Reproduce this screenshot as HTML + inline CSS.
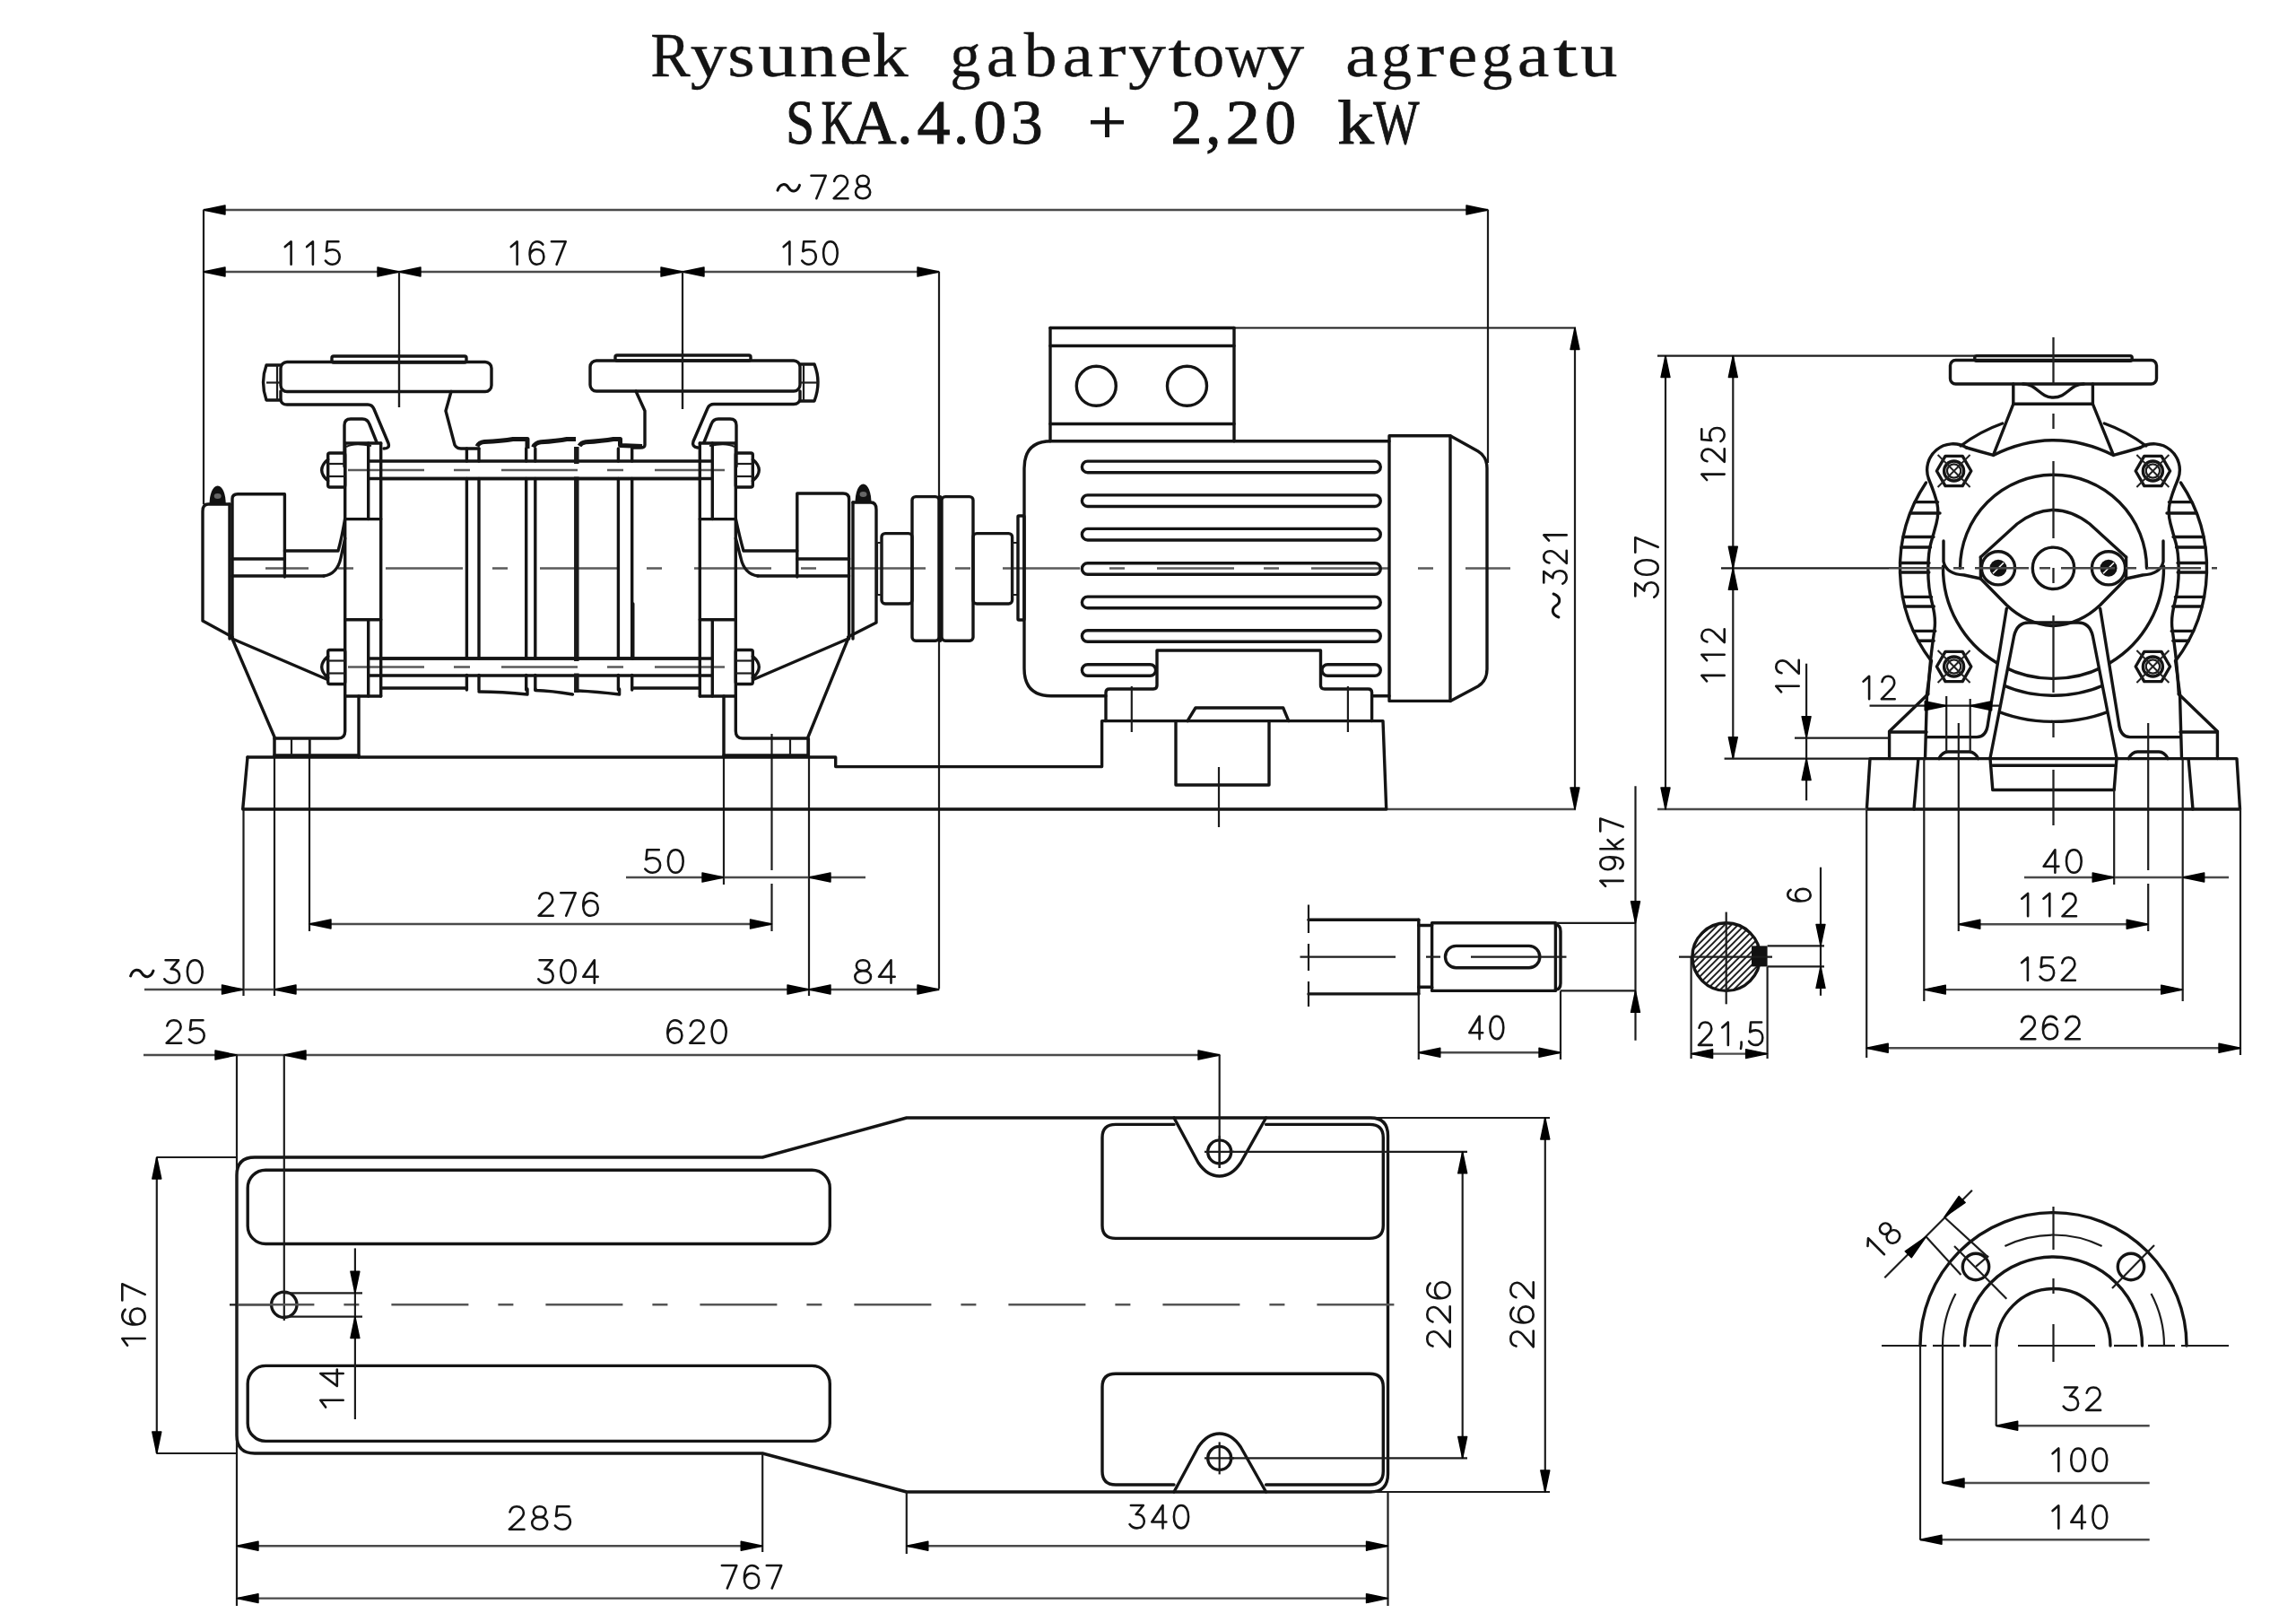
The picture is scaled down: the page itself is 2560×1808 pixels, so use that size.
<!DOCTYPE html>
<html><head><meta charset="utf-8"><title>Rysunek gabarytowy agregatu</title>
<style>
html,body{margin:0;padding:0;background:#fff;}
svg{display:block;filter:grayscale(1);}
.o{fill:none;stroke:#141414;stroke-width:3.4;stroke-linejoin:round;stroke-linecap:round;}
.t{fill:none;stroke:#1c1c1c;stroke-width:2.2;stroke-linecap:butt;}
.d{fill:none;stroke:#4a4a4a;stroke-width:2.4;}
.c{fill:none;stroke:#555;stroke-width:2.6;stroke-dasharray:56 14 14 14;}
.cs{fill:none;stroke:#555;stroke-width:2.6;stroke-dasharray:28 10 10 10;}
.h{fill:none;stroke:#222;stroke-width:2;}
.wl{fill:none;stroke:#fff;stroke-width:1.6;}
.a{fill:#000;stroke:#000;stroke-width:1.4;stroke-linejoin:round;}
.tl{fill:none;stroke:#111;stroke-width:3;stroke-linecap:round;}
.fb{fill:#111;stroke:none;}
.dt{font-family:"Liberation Sans",sans-serif;fill:#141414;stroke:#fff;stroke-width:0.7;}
.df{fill:none;stroke:#141414;stroke-width:2.6;stroke-linecap:round;stroke-linejoin:round;}
.tt{font-family:"Liberation Serif",serif;fill:#141414;stroke:#141414;stroke-width:1.0;}
.tt1{font-family:"Liberation Serif",serif;fill:#141414;stroke:#141414;stroke-width:0.3;}
</style></head>
<body>
<svg width="2560" height="1808" viewBox="0 0 2560 1808">
<rect x="0" y="0" width="2560" height="1808" fill="#fff"/>
<text class="tt1" x="725.2" y="84.5" font-size="69" textLength="44.5" lengthAdjust="spacingAndGlyphs">R</text>
<text class="tt1" x="769.8" y="84.5" font-size="69" textLength="40.7" lengthAdjust="spacingAndGlyphs">y</text>
<text class="tt1" x="811.2" y="84.5" font-size="69" textLength="30.5" lengthAdjust="spacingAndGlyphs">s</text>
<text class="tt1" x="845.2" y="84.5" font-size="69" textLength="43.5" lengthAdjust="spacingAndGlyphs">u</text>
<text class="tt1" x="891.2" y="84.5" font-size="69" textLength="42.1" lengthAdjust="spacingAndGlyphs">n</text>
<text class="tt1" x="935.8" y="84.5" font-size="69" textLength="36.7" lengthAdjust="spacingAndGlyphs">e</text>
<text class="tt1" x="972.2" y="84.5" font-size="69" textLength="40.5" lengthAdjust="spacingAndGlyphs">k</text>
<text class="tt1" x="1059.3" y="84.5" font-size="69" textLength="34.2" lengthAdjust="spacingAndGlyphs">g</text>
<text class="tt1" x="1099.8" y="84.5" font-size="69" textLength="34.2" lengthAdjust="spacingAndGlyphs">a</text>
<text class="tt1" x="1141.7" y="84.5" font-size="69" textLength="36.8" lengthAdjust="spacingAndGlyphs">b</text>
<text class="tt1" x="1184.8" y="84.5" font-size="69" textLength="34.2" lengthAdjust="spacingAndGlyphs">a</text>
<text class="tt1" x="1224" y="84.5" font-size="69" textLength="31.6" lengthAdjust="spacingAndGlyphs">r</text>
<text class="tt1" x="1258" y="84.5" font-size="69" textLength="42" lengthAdjust="spacingAndGlyphs">y</text>
<text class="tt1" x="1302.3" y="84.5" font-size="69" textLength="26.3" lengthAdjust="spacingAndGlyphs">t</text>
<text class="tt1" x="1329.8" y="84.5" font-size="69" textLength="35.5" lengthAdjust="spacingAndGlyphs">o</text>
<text class="tt1" x="1366.3" y="84.5" font-size="69" textLength="47.3" lengthAdjust="spacingAndGlyphs">w</text>
<text class="tt1" x="1412.2" y="84.5" font-size="69" textLength="42" lengthAdjust="spacingAndGlyphs">y</text>
<text class="tt1" x="1499.9" y="84.5" font-size="69" textLength="36.3" lengthAdjust="spacingAndGlyphs">a</text>
<text class="tt1" x="1540" y="84.5" font-size="69" textLength="34.1" lengthAdjust="spacingAndGlyphs">g</text>
<text class="tt1" x="1578.5" y="84.5" font-size="69" textLength="31.9" lengthAdjust="spacingAndGlyphs">r</text>
<text class="tt1" x="1614" y="84.5" font-size="69" textLength="33.3" lengthAdjust="spacingAndGlyphs">e</text>
<text class="tt1" x="1651.8" y="84.5" font-size="69" textLength="34.8" lengthAdjust="spacingAndGlyphs">g</text>
<text class="tt1" x="1691.8" y="84.5" font-size="69" textLength="35.6" lengthAdjust="spacingAndGlyphs">a</text>
<text class="tt1" x="1731.8" y="84.5" font-size="69" textLength="27.4" lengthAdjust="spacingAndGlyphs">t</text>
<text class="tt1" x="1762" y="84.5" font-size="69" textLength="41.5" lengthAdjust="spacingAndGlyphs">u</text>
<text class="tt" x="876.2" y="160" font-size="69" textLength="31.7" lengthAdjust="spacingAndGlyphs">S</text>
<text class="tt" x="915.5" y="160" font-size="69" textLength="37" lengthAdjust="spacingAndGlyphs">K</text>
<text class="tt" x="949.5" y="160" font-size="69" textLength="50" lengthAdjust="spacingAndGlyphs">A</text>
<text class="tt" x="1000.2" y="160" font-size="69" textLength="17.2" lengthAdjust="spacingAndGlyphs">.</text>
<text class="tt" x="1022.5" y="160" font-size="69" textLength="37" lengthAdjust="spacingAndGlyphs">4</text>
<text class="tt" x="1062.9" y="160" font-size="69" textLength="17.2" lengthAdjust="spacingAndGlyphs">.</text>
<text class="tt" x="1085.2" y="160" font-size="69" textLength="37" lengthAdjust="spacingAndGlyphs">0</text>
<text class="tt" x="1127" y="160" font-size="69" textLength="35.7" lengthAdjust="spacingAndGlyphs">3</text>
<text class="tt" x="1212.8" y="160" font-size="69" textLength="43.5" lengthAdjust="spacingAndGlyphs">+</text>
<text class="tt" x="1305.5" y="160" font-size="69" textLength="34.8" lengthAdjust="spacingAndGlyphs">2</text>
<text class="tt" x="1344.3" y="160" font-size="69" textLength="17.2" lengthAdjust="spacingAndGlyphs">,</text>
<text class="tt" x="1366.5" y="160" font-size="69" textLength="38.5" lengthAdjust="spacingAndGlyphs">2</text>
<text class="tt" x="1410.2" y="160" font-size="69" textLength="34.8" lengthAdjust="spacingAndGlyphs">0</text>
<text class="tt" x="1491.3" y="160" font-size="69" textLength="40.7" lengthAdjust="spacingAndGlyphs">k</text>
<text class="tt" x="1531.3" y="160" font-size="69" textLength="51.2" lengthAdjust="spacingAndGlyphs">W</text>
<line class="d" x1="227" y1="234" x2="1659" y2="234"/>
<path class="a" d="M227 234 L251 229 L251 239 Z"/>
<path class="a" d="M1659 234 L1635 239 L1635 229 Z"/>
<line class="t" x1="227" y1="234" x2="227" y2="562"/>
<line class="t" x1="1659" y1="234" x2="1659" y2="516"/>
<path class="tl" d="M867 212.2 C869.9 203.6 876.3 204.3 879.2 209.3 C882.2 214.3 888.6 215 891.5 206.4"/>
<path class="df" d="M904.5 195.8 L920.7 195.8 L910.3 221.2 M930.2 202.0 C931.2 198.0 934.1 195.8 937.5 195.8 C942.1 195.8 945.0 198.9 945.0 203.1 C945.0 206.9 942.5 209.2 939.0 212.1 L929.6 221.2 L945.5 221.2 M962.1 207.6 C958.0 207.6 955.5 205.1 955.5 201.8 C955.5 198.3 958.2 195.8 962.1 195.8 C966.0 195.8 968.7 198.3 968.7 201.8 C968.7 205.1 966.1 207.6 962.1 207.6 C957.4 207.6 954.0 210.3 954.0 214.3 C954.0 218.3 957.4 221.2 962.1 221.2 C966.8 221.2 970.2 218.3 970.2 214.3 C970.2 210.3 966.8 207.6 962.1 207.6 Z"/>
<line class="d" x1="227" y1="303" x2="1047" y2="303"/>
<path class="a" d="M227 303 L251 298 L251 308 Z"/>
<path class="a" d="M445 303 L421 308 L421 298 Z"/>
<path class="a" d="M445 303 L469 298 L469 308 Z"/>
<path class="a" d="M761 303 L737 308 L737 298 Z"/>
<path class="a" d="M761 303 L785 298 L785 308 Z"/>
<path class="a" d="M1047 303 L1023 308 L1023 298 Z"/>
<line class="t" x1="445" y1="303" x2="445" y2="454"/>
<line class="t" x1="761" y1="303" x2="761" y2="456"/>
<line class="t" x1="1047" y1="303" x2="1047" y2="1102"/>
<path class="df" d="M317.8 275.1 L324.6 269.3 L324.6 294.7 M342.1 275.1 L348.9 269.3 L348.9 294.7 M377.4 269.3 L364.9 269.3 L364.0 280.2 C366.0 278.7 368.2 278.2 370.8 278.2 C375.7 278.2 378.7 281.8 378.7 286.5 C378.7 291.4 375.4 294.7 370.8 294.7 C367.3 294.7 364.6 293.1 362.9 290.5"/>
<path class="df" d="M569.8 275.1 L576.6 269.3 L576.6 294.7 M605.3 272.6 C603.7 270.4 601.5 269.3 599.0 269.3 C593.6 269.3 590.6 275.1 590.6 283.8 C590.6 290.7 593.7 294.7 598.5 294.7 C603.3 294.7 606.4 291.1 606.4 286.2 C606.4 281.3 603.3 278.0 598.7 278.0 C594.9 278.0 591.8 280.5 590.7 284.5 M614.9 269.3 L630.7 269.3 L620.6 294.7"/>
<path class="df" d="M873.7 275.1 L880.4 269.3 L880.4 294.7 M908.5 269.3 L896.2 269.3 L895.3 280.2 C897.3 278.7 899.5 278.2 902.0 278.2 C906.8 278.2 909.8 281.8 909.8 286.5 C909.8 291.4 906.5 294.7 902.0 294.7 C898.6 294.7 895.9 293.1 894.2 290.5 M925.9 269.3 C930.9 269.3 933.7 274.7 933.7 282.0 C933.7 289.3 930.9 294.7 925.9 294.7 C920.9 294.7 918.1 289.3 918.1 282.0 C918.1 274.7 920.9 269.3 925.9 269.3 Z"/>
<line class="t" x1="1376" y1="365.5" x2="1757" y2="365.5"/>
<line class="d" x1="1546" y1="902" x2="1757" y2="902"/>
<line class="t" x1="1756" y1="365.5" x2="1756" y2="902"/>
<path class="a" d="M1756 365.5 L1761 389.5 L1751 389.5 Z"/>
<path class="a" d="M1756 902 L1751 878 L1761 878 Z"/>
<path class="df" transform="translate(1748 652) rotate(-90)" d="M2.5 -26.7 L14.9 -26.7 L7.7 -16.7 C12.7 -17.1 15.8 -13.6 15.8 -8.9 C15.8 -4.2 12.7 -1.3 8.5 -1.3 C5.5 -1.3 2.9 -2.9 1.3 -5.7 M24.6 -20.5 C25.5 -24.5 28.1 -26.7 31.1 -26.7 C35.2 -26.7 37.8 -23.6 37.8 -19.4 C37.8 -15.6 35.6 -13.3 32.4 -10.4 L24.1 -1.3 L38.2 -1.3 M49.4 -20.9 L55.6 -26.7 L55.6 -1.3"/>
<path class="tl" transform="rotate(-90 1735 675)" d="M1722 677.9 C1725.1 669.3 1731.9 670 1735 675 C1738.1 680 1744.9 680.7 1748 672.1"/>
<line class="t" x1="271.5" y1="902" x2="271.5" y2="1110"/>
<line class="t" x1="306" y1="823" x2="306" y2="1110"/>
<line class="t" x1="345" y1="823" x2="345" y2="1038"/>
<line class="t" x1="807" y1="776" x2="807" y2="986"/>
<line class="t" x1="860.5" y1="818" x2="860.5" y2="970"/>
<line class="t" x1="860.5" y1="985" x2="860.5" y2="1038"/>
<line class="t" x1="902" y1="823" x2="902" y2="1110"/>
<line class="d" x1="698" y1="978" x2="965" y2="978"/>
<path class="a" d="M807 978 L783 983 L783 973 Z"/>
<path class="a" d="M902 978 L926 973 L926 983 Z"/>
<path class="df" d="M734.8 947.3 L721.5 947.3 L720.5 958.2 C722.7 956.7 725.0 956.2 727.7 956.2 C732.9 956.2 736.1 959.8 736.1 964.5 C736.1 969.4 732.6 972.7 727.7 972.7 C724.0 972.7 721.2 971.1 719.3 968.5 M753.3 947.3 C758.7 947.3 761.7 952.7 761.7 960.0 C761.7 967.3 758.7 972.7 753.3 972.7 C747.9 972.7 744.9 967.3 744.9 960.0 C744.9 952.7 747.9 947.3 753.3 947.3 Z"/>
<line class="d" x1="345" y1="1030" x2="860.5" y2="1030"/>
<path class="a" d="M345 1030 L369 1025 L369 1035 Z"/>
<path class="a" d="M860.5 1030 L836.5 1035 L836.5 1025 Z"/>
<path class="df" d="M601.3 1001.5 C602.3 997.5 605.2 995.3 608.7 995.3 C613.3 995.3 616.2 998.4 616.2 1002.6 C616.2 1006.4 613.7 1008.7 610.1 1011.6 L600.6 1020.7 L616.7 1020.7 M625.3 995.3 L641.7 995.3 L631.2 1020.7 M665.6 998.6 C663.9 996.4 661.6 995.3 659.0 995.3 C653.4 995.3 650.3 1001.1 650.3 1009.8 C650.3 1016.7 653.6 1020.7 658.5 1020.7 C663.4 1020.7 666.7 1017.1 666.7 1012.2 C666.7 1007.3 663.4 1004.0 658.7 1004.0 C654.7 1004.0 651.6 1006.5 650.5 1010.5"/>
<line class="d" x1="161" y1="1103" x2="1047" y2="1103"/>
<path class="a" d="M271.5 1103 L247.5 1108 L247.5 1098 Z"/>
<path class="a" d="M306 1103 L330 1098 L330 1108 Z"/>
<path class="a" d="M902 1103 L878 1108 L878 1098 Z"/>
<path class="a" d="M902 1103 L926 1098 L926 1108 Z"/>
<path class="a" d="M1047 1103 L1023 1108 L1023 1098 Z"/>
<path class="tl" d="M145.6 1087.9 C148.6 1079.3 155.3 1080 158.3 1085 C161.3 1090 168 1090.7 171 1082.1"/>
<path class="df" d="M184.6 1070.3 L199.1 1070.3 L190.7 1080.3 C196.6 1079.9 200.1 1083.4 200.1 1088.1 C200.1 1092.8 196.6 1095.7 191.7 1095.7 C188.2 1095.7 185.2 1094.1 183.3 1091.3 M217.3 1070.3 C222.7 1070.3 225.7 1075.7 225.7 1083.0 C225.7 1090.3 222.7 1095.7 217.3 1095.7 C211.9 1095.7 208.9 1090.3 208.9 1083.0 C208.9 1075.7 211.9 1070.3 217.3 1070.3 Z"/>
<path class="df" d="M601.6 1070.3 L615.7 1070.3 L607.5 1080.3 C613.3 1079.9 616.7 1083.4 616.7 1088.1 C616.7 1092.8 613.3 1095.7 608.5 1095.7 C605.1 1095.7 602.1 1094.1 600.3 1091.3 M633.5 1070.3 C638.7 1070.3 641.7 1075.7 641.7 1083.0 C641.7 1090.3 638.7 1095.7 633.5 1095.7 C628.3 1095.7 625.3 1090.3 625.3 1083.0 C625.3 1075.7 628.3 1070.3 633.5 1070.3 Z M662.8 1095.7 L662.8 1070.3 L650.3 1088.8 L666.7 1088.8"/>
<path class="df" d="M962.1 1082.1 C957.7 1082.1 954.9 1079.6 954.9 1076.3 C954.9 1072.8 957.9 1070.3 962.1 1070.3 C966.4 1070.3 969.4 1072.8 969.4 1076.3 C969.4 1079.6 966.6 1082.1 962.1 1082.1 C957.0 1082.1 953.3 1084.8 953.3 1088.8 C953.3 1092.8 957.0 1095.7 962.1 1095.7 C967.3 1095.7 971.0 1092.8 971.0 1088.8 C971.0 1084.8 967.3 1082.1 962.1 1082.1 Z M993.5 1095.7 L993.5 1070.3 L980.0 1088.8 L997.7 1088.8"/>
<line class="d" x1="160" y1="1176" x2="1360" y2="1176"/>
<path class="a" d="M264 1176 L240 1181 L240 1171 Z"/>
<path class="a" d="M317 1176 L341 1171 L341 1181 Z"/>
<path class="a" d="M1360 1176 L1336 1181 L1336 1171 Z"/>
<path class="df" d="M186.3 1143.5 C187.3 1139.5 190.3 1137.3 193.9 1137.3 C198.6 1137.3 201.6 1140.4 201.6 1144.6 C201.6 1148.4 199.1 1150.7 195.4 1153.6 L185.6 1162.7 L202.1 1162.7 M226.4 1137.3 L213.1 1137.3 L212.0 1148.2 C214.2 1146.7 216.6 1146.2 219.3 1146.2 C224.5 1146.2 227.7 1149.8 227.7 1154.5 C227.7 1159.4 224.2 1162.7 219.3 1162.7 C215.6 1162.7 212.7 1161.1 210.9 1158.5"/>
<path class="df" d="M759.3 1140.6 C757.7 1138.4 755.4 1137.3 752.8 1137.3 C747.4 1137.3 744.3 1143.1 744.3 1151.8 C744.3 1158.7 747.5 1162.7 752.4 1162.7 C757.2 1162.7 760.4 1159.1 760.4 1154.2 C760.4 1149.3 757.2 1146.0 752.5 1146.0 C748.7 1146.0 745.6 1148.5 744.5 1152.5 M769.9 1143.5 C770.9 1139.5 773.8 1137.3 777.2 1137.3 C781.7 1137.3 784.6 1140.4 784.6 1144.6 C784.6 1148.4 782.2 1150.7 778.6 1153.6 L769.3 1162.7 L785.1 1162.7 M801.6 1137.3 C806.8 1137.3 809.7 1142.7 809.7 1150.0 C809.7 1157.3 806.8 1162.7 801.6 1162.7 C796.5 1162.7 793.6 1157.3 793.6 1150.0 C793.6 1142.7 796.5 1137.3 801.6 1137.3 Z"/>
<path d="M296 633.5 L1684 633.5" style="fill:none;stroke:#5a5a5a;stroke-width:2.6;stroke-dasharray:86 33 17 36;stroke-dashoffset:38"/>
<rect class="o" x="370" y="397" width="150" height="7" rx="2"/>
<rect class="o" x="313" y="403.5" width="235" height="33" rx="7"/>
<path class="o" d="M313 407 L297 407 Q290 426 297 446 L313 446"/>
<line class="t" x1="309" y1="407" x2="309" y2="446"/>
<line class="t" x1="297" y1="426.5" x2="313" y2="426.5"/>
<path class="o" d="M313 436 L313 446 Q314 451 320 451 L410 451 Q415 451 417 456 L433 494 Q435 500 428 500"/>
<path class="o" d="M503 436.5 L497 458 L507 496 Q509 500 514 500 L534 500"/>
<line class="t" x1="445" y1="390" x2="445" y2="454"/>
<path class="o" d="M384 520 L384 474 Q384 467 391 467 L404 467 Q410 467 412 473 L420 493"/>
<path class="t" d="M386 498 Q395 493 414 497"/>
<rect class="o" x="686" y="396" width="151" height="6" rx="2"/>
<rect class="o" x="658" y="402" width="234" height="34" rx="7"/>
<path class="o" d="M892 406 L908 406 Q916 426 908 447 L892 447"/>
<line class="t" x1="896" y1="406" x2="896" y2="447"/>
<line class="t" x1="892" y1="426.5" x2="913" y2="426.5"/>
<path class="o" d="M892 436 L892 445 Q891 450.5 885 450.5 L796 450.5 Q791 450.5 789 455 L773 492 Q771 498 778 499"/>
<path class="o" d="M709 436 L719 458 L719 496 Q719 499 714 499 L705 499"/>
<line class="t" x1="761" y1="390" x2="761" y2="456"/>
<path class="o" d="M821 520 L821 474 Q821 467 814 467 L801 467 Q795 467 793 473 L785 493"/>
<path class="t" d="M819 498 Q810 493 791 497"/>
<path d="M532 497.5 Q534 493 540 492.5 Q560 491.5 572 489.5 L588 489.5 L588 500 M594.5 498.5 Q597 493.5 603 492.8 Q622 491.5 632 489.5 L642 489.5 M646 497 Q648 493.5 653 492.8 Q672 491.5 684 489.5 L691.5 489.5 L691.5 496.5 L716 497.5" style="fill:none;stroke:#141414;stroke-width:5;stroke-linejoin:round"/>
<path class="o" d="M534 771 Q560 771 588 774 L588 768"/>
<path class="o" d="M597 768 L597 769.5 Q615 770 638.5 774"/>
<path class="o" d="M645 770 Q665 771 690.6 774 L690.6 768"/>
<line class="o" x1="424.7" y1="767" x2="520.4" y2="767"/>
<line class="o" x1="704.7" y1="767" x2="780" y2="767"/>
<line class="o" x1="412" y1="514" x2="794" y2="514"/>
<line class="o" x1="412" y1="533.5" x2="794" y2="533.5"/>
<line class="o" x1="412" y1="734" x2="794" y2="734"/>
<line class="o" x1="412" y1="753" x2="794" y2="753"/>
<path d="M388 524 L808 524 M388 743.5 L808 743.5" style="fill:none;stroke:#5a5a5a;stroke-width:2.4;stroke-dasharray:85 33 18 35"/>
<line class="o" x1="520.4" y1="500" x2="520.4" y2="514"/>
<line class="o" x1="520.4" y1="533.5" x2="520.4" y2="734"/>
<line class="o" x1="520.4" y1="752.5" x2="520.4" y2="769"/>
<line class="o" x1="534" y1="500" x2="534" y2="514"/>
<line class="o" x1="534" y1="533.5" x2="534" y2="734"/>
<line class="o" x1="534" y1="752.5" x2="534" y2="769"/>
<line class="o" x1="586.7" y1="500" x2="586.7" y2="514"/>
<line class="o" x1="586.7" y1="533.5" x2="586.7" y2="734"/>
<line class="o" x1="586.7" y1="752.5" x2="586.7" y2="769"/>
<line class="o" x1="596.8" y1="500" x2="596.8" y2="514"/>
<line class="o" x1="596.8" y1="533.5" x2="596.8" y2="734"/>
<line class="o" x1="596.8" y1="752.5" x2="596.8" y2="769"/>
<line class="o" x1="689.4" y1="500" x2="689.4" y2="514"/>
<line class="o" x1="689.4" y1="533.5" x2="689.4" y2="734"/>
<line class="o" x1="689.4" y1="752.5" x2="689.4" y2="769"/>
<line class="o" x1="704.7" y1="500" x2="704.7" y2="514"/>
<line class="o" x1="704.7" y1="533.5" x2="704.7" y2="734"/>
<line class="o" x1="704.7" y1="752.5" x2="704.7" y2="769"/>
<line x1="642.8" y1="498" x2="642.8" y2="517" style="stroke:#1a1a1a;stroke-width:5.5"/>
<line x1="642.8" y1="531.5" x2="642.8" y2="737" style="stroke:#1a1a1a;stroke-width:5.5"/>
<line x1="642.8" y1="750.5" x2="642.8" y2="772" style="stroke:#1a1a1a;stroke-width:5.5"/>
<line class="o" x1="705.8" y1="673" x2="705.8" y2="734"/>
<line class="o" x1="424.7" y1="533.5" x2="780" y2="533.5"/>
<line class="o" x1="424.7" y1="734" x2="780" y2="734"/>
<line class="o" x1="384.7" y1="494" x2="384.7" y2="776"/>
<line class="o" x1="410.7" y1="494" x2="410.7" y2="578.6"/>
<line class="o" x1="410.7" y1="690.8" x2="410.7" y2="776"/>
<line class="o" x1="424.7" y1="494" x2="424.7" y2="776"/>
<line class="o" x1="384.7" y1="578.6" x2="424.7" y2="578.6"/>
<line class="o" x1="384.7" y1="690.8" x2="424.7" y2="690.8"/>
<line class="o" x1="384.7" y1="494" x2="424.7" y2="494"/>
<line class="o" x1="384.7" y1="776" x2="424.7" y2="776"/>
<rect class="o" x="365.7" y="505" width="19" height="38" rx="2"/>
<line class="t" x1="365.7" y1="517" x2="384.7" y2="517"/>
<line class="t" x1="365.7" y1="531" x2="384.7" y2="531"/>
<path class="o" d="M365.7 512 Q351.7 524 365.7 536"/>
<rect class="o" x="365.7" y="724.5" width="19" height="38" rx="2"/>
<line class="t" x1="365.7" y1="736.5" x2="384.7" y2="736.5"/>
<line class="t" x1="365.7" y1="750.5" x2="384.7" y2="750.5"/>
<path class="o" d="M365.7 731.5 Q351.7 743.5 365.7 755.5"/>
<line class="o" x1="820.3" y1="494" x2="820.3" y2="776"/>
<line class="o" x1="794.3" y1="494" x2="794.3" y2="578.6"/>
<line class="o" x1="794.3" y1="690.8" x2="794.3" y2="776"/>
<line class="o" x1="780.3" y1="494" x2="780.3" y2="776"/>
<line class="o" x1="820.3" y1="578.6" x2="780.3" y2="578.6"/>
<line class="o" x1="820.3" y1="690.8" x2="780.3" y2="690.8"/>
<line class="o" x1="820.3" y1="494" x2="780.3" y2="494"/>
<line class="o" x1="820.3" y1="776" x2="780.3" y2="776"/>
<rect class="o" x="820.3" y="505" width="19" height="38" rx="2"/>
<line class="t" x1="820.3" y1="517" x2="839.3" y2="517"/>
<line class="t" x1="820.3" y1="531" x2="839.3" y2="531"/>
<path class="o" d="M839.3 512 Q853.3 524 839.3 536"/>
<rect class="o" x="820.3" y="724.5" width="19" height="38" rx="2"/>
<line class="t" x1="820.3" y1="736.5" x2="839.3" y2="736.5"/>
<line class="t" x1="820.3" y1="750.5" x2="839.3" y2="750.5"/>
<path class="o" d="M839.3 731.5 Q853.3 743.5 839.3 755.5"/>
<path class="o" d="M256 562 L232 562 Q226 562 226 570 L226 692 L259 710"/>
<line class="o" x1="256" y1="562" x2="256" y2="712"/>
<path class="o" d="M259 712 L259 556 Q259 550.7 265 550.7 L317.4 550.7 L317.4 643"/>
<line class="o" x1="259" y1="623" x2="317.4" y2="623"/>
<line class="o" x1="259" y1="642" x2="361" y2="642"/>
<path class="o" d="M317.4 614 L377 614 Q381 600 384.7 578"/>
<path class="o" d="M361 642 Q376 640 380 622 L384.7 600"/>
<path class="fb" d="M233.5 563 C233.5 551 237 541.5 242.7 541.5 C248.4 541.5 251.8 551 251.8 563 Z"/>
<ellipse cx="242.7" cy="553" rx="4" ry="3" fill="#666"/>
<path class="o" d="M259 712 L306 821.5 L306 842"/>
<path class="o" d="M259 712 L364 757"/>
<path class="o" d="M384.7 776 L384.7 815 Q384.7 823 377 823 L306 823"/>
<line class="o" x1="306" y1="842" x2="400" y2="842"/>
<line class="t" x1="345.6" y1="823" x2="345.6" y2="842"/>
<line class="o" x1="400" y1="776" x2="400" y2="844"/>
<line class="t" x1="325" y1="823" x2="325" y2="842"/>
<path class="o" d="M951 560 L971 560 Q977 560 977 568 L977 694 L945.6 710"/>
<line class="o" x1="951" y1="560" x2="951" y2="712"/>
<path class="o" d="M946.6 712 L946.6 556 Q946.6 550 940 550 L888.8 550 L888.8 643"/>
<line class="o" x1="888.8" y1="623" x2="946.6" y2="623"/>
<line class="o" x1="845" y1="642" x2="946.6" y2="642"/>
<path class="o" d="M888.8 614 L829 614 Q825 600 820.3 578"/>
<path class="o" d="M845 642 Q830 640 826 622 L820.3 600"/>
<path class="fb" d="M953.5 561 C953.5 549 957 539.5 962.5 539.5 C968 539.5 971.5 549 971.5 561 Z"/>
<ellipse cx="962.5" cy="551" rx="4" ry="3" fill="#666"/>
<path class="o" d="M945.6 712 L901 821.5 L901 842"/>
<path class="o" d="M945.6 712 L841 757"/>
<path class="o" d="M820.3 776 L820.3 815 Q820.3 823 828 823 L901 823"/>
<line class="o" x1="807" y1="842" x2="901" y2="842"/>
<line class="o" x1="807" y1="776" x2="807" y2="844"/>
<line class="t" x1="881" y1="823" x2="881" y2="842"/>
<path class="o" d="M276 844 L931.7 844 L931.7 854.6 L1228.6 854.6 L1228.6 803.6 L1542 803.6 L1545.7 902 L270.7 902 Z"/>
<line class="o" x1="276" y1="844" x2="276" y2="844"/>
<rect class="o" x="983" y="594.6" width="34" height="78.4" rx="4"/>
<rect class="t" x="978" y="605" width="5" height="58" rx="1"/>
<rect class="o" x="1017" y="553.6" width="30" height="160.7" rx="4"/>
<rect class="o" x="1050" y="553.6" width="35" height="160.7" rx="4"/>
<line class="o" x1="1048.5" y1="553.6" x2="1048.5" y2="714.3"/>
<rect class="o" x="1085" y="594.6" width="43.6" height="78.4" rx="4"/>
<rect class="t" x="1128.6" y="605" width="6.4" height="58" rx="1"/>
<rect class="o" x="1135" y="575" width="7" height="116" rx="1"/>
<line class="o" x1="1171" y1="365.5" x2="1376" y2="365.5"/>
<line class="o" x1="1171" y1="365.5" x2="1171" y2="491.8"/>
<line class="o" x1="1376" y1="365.5" x2="1376" y2="491.8"/>
<line class="o" x1="1171" y1="385.5" x2="1376" y2="385.5"/>
<line class="o" x1="1171" y1="472.5" x2="1376" y2="472.5"/>
<circle class="o" cx="1222.3" cy="430.3" r="22"/>
<circle class="o" cx="1323.5" cy="430.3" r="22"/>
<path class="o" d="M1549 491.8 L1172 491.8 Q1142 491.8 1142 522 L1142 745 Q1142 775.7 1172 775.7 L1233 775.7"/>
<line class="o" x1="1529.6" y1="775.7" x2="1549" y2="775.7"/>
<rect class="o" x="1206.4" y="514.1" width="332.9" height="12.6" rx="6.3"/>
<rect class="o" x="1206.4" y="551.9" width="332.9" height="12.6" rx="6.3"/>
<rect class="o" x="1206.4" y="589.4" width="332.9" height="12.6" rx="6.3"/>
<rect class="o" x="1206.4" y="627.7" width="332.9" height="12.6" rx="6.3"/>
<rect class="o" x="1206.4" y="665.1" width="332.9" height="12.6" rx="6.3"/>
<rect class="o" x="1206.4" y="702.7" width="332.9" height="12.6" rx="6.3"/>
<rect class="o" x="1206.4" y="740.7" width="82.2" height="12.6" rx="6.3"/>
<rect class="o" x="1474" y="740.7" width="65.3" height="12.6" rx="6.3"/>
<path class="o" d="M1233 803.6 L1233 772 Q1233 768 1237 768 L1286 768 Q1290 768 1290 764 L1290 725 L1472.5 725 L1472.5 764 Q1472.5 768 1477 768 L1525.6 768 Q1529.6 768 1529.6 772 L1529.6 803.6"/>
<line class="t" x1="1261.8" y1="765" x2="1261.8" y2="816"/>
<line class="t" x1="1502.9" y1="765" x2="1502.9" y2="816"/>
<path class="o" d="M1549 485.7 L1549 781.4 L1617 781.4 L1617 485.7 Z"/>
<path class="o" d="M1617 485.7 L1648 503 Q1658 509 1658 522 L1658 746 Q1658 759 1648 765 L1617 781.4"/>
<path class="o" d="M1311 803.6 L1311 875 L1415 875 L1415 803.6"/>
<path class="o" d="M1324 803.6 L1333 789 L1430.7 789 L1436.8 803.6"/>
<line class="t" x1="1359" y1="855" x2="1359" y2="922"/>
<rect class="o" x="2201.8" y="396.6" width="175.4" height="5.7" rx="2"/>
<rect class="o" x="2174.5" y="401.5" width="230" height="26.5" rx="6"/>
<path class="o" d="M2244.8 428 L2244.8 450.3 L2333.4 450.3 L2333.4 428"/>
<path class="o" d="M2255.6 428 C2271 428 2274 443 2289.5 443 C2305 443 2308 428 2323.4 428"/>
<path class="o" d="M2244.8 450.3 L2222.5 507.4"/>
<path class="o" d="M2333.4 450.3 L2356.5 507.4"/>
<path class="o" d="M2186.2 497 A171 171 0 0 1 2232.7 472"/>
<path class="o" d="M2346.3 472 A171 171 0 0 1 2392.8 497"/>
<path class="o" d="M2153.5 737 A171 171 0 0 1 2147.5 538"/>
<path class="o" d="M2431.5 538 A171 171 0 0 1 2425.5 737"/>
<path class="o" d="M2150.5 534 A29 29 0 0 1 2192.7 499"/>
<path class="o" d="M2428.5 534 A29 29 0 0 0 2386.3 499"/>
<path class="o" d="M2192.7 499 Q2208 503.5 2222.5 507.4 Q2289.5 474 2356.5 507.4 Q2371 503.5 2386.3 499"/>
<path class="o" d="M2150.5 534 Q2158 552 2160 562 Q2162 572 2159 583.5 Q2156 595 2153 605 Q2150 615 2149.8 635 Q2149.7 655 2154.2 672 Q2158.8 689 2156.9 702 Q2155 715 2153.5 727.5 Q2152 740 2150.8 756.9 L2149.7 773.8"/>
<path class="o" d="M2428.5 534 Q2421 552 2419 562 Q2417 572 2420 583.5 Q2423 595 2426 605 Q2429 615 2429.2 635 Q2429.3 655 2424.8 672 Q2420.2 689 2422.1 702 Q2424 715 2425.5 727.5 Q2427 740 2428.2 756.9 L2429.3 773.8"/>
<line class="o" x1="2135.2" y1="559.6" x2="2160.5" y2="559.6"/>
<line class="o" x1="2443.8" y1="559.6" x2="2418.5" y2="559.6"/>
<line class="o" x1="2129.9" y1="572" x2="2163" y2="572"/>
<line class="o" x1="2449.1" y1="572" x2="2416" y2="572"/>
<line class="o" x1="2122.1" y1="598.5" x2="2155.9" y2="598.5"/>
<line class="o" x1="2456.9" y1="598.5" x2="2423.1" y2="598.5"/>
<line class="o" x1="2120.1" y1="610" x2="2152.5" y2="610"/>
<line class="o" x1="2458.9" y1="610" x2="2426.5" y2="610"/>
<line class="o" x1="2118.6" y1="627.5" x2="2150.9" y2="627.5"/>
<line class="o" x1="2460.4" y1="627.5" x2="2428.1" y2="627.5"/>
<line class="o" x1="2118.6" y1="638" x2="2150.8" y2="638"/>
<line class="o" x1="2460.4" y1="638" x2="2428.2" y2="638"/>
<line class="o" x1="2121.5" y1="665.4" x2="2153.5" y2="665.4"/>
<line class="o" x1="2457.5" y1="665.4" x2="2425.5" y2="665.4"/>
<line class="o" x1="2123.9" y1="676" x2="2156.3" y2="676"/>
<line class="o" x1="2455.1" y1="676" x2="2422.7" y2="676"/>
<line class="o" x1="2133.5" y1="703.4" x2="2157.7" y2="703.4"/>
<line class="o" x1="2445.5" y1="703.4" x2="2421.3" y2="703.4"/>
<line class="o" x1="2138.8" y1="714.2" x2="2156.1" y2="714.2"/>
<line class="o" x1="2440.2" y1="714.2" x2="2422.9" y2="714.2"/>
<path class="o" d="M2185.5 633.3 A104 104 0 0 1 2393.5 633.3"/>
<path class="o" d="M2226.6 739 A123 123 0 0 1 2166.5 631.2"/>
<path class="o" d="M2412.5 631.2 A123 123 0 0 1 2352.4 739"/>
<path class="o" d="M2167 603 L2167 626 Q2170 640 2190 641 L2208.4 645"/>
<path class="o" d="M2412 603 L2412 626 Q2409 640 2389 641 L2370.6 645"/>
<path class="o" d="M2208.4 621 L2249 584 Q2289.5 553 2330 584 L2370.6 621"/>
<path class="o" d="M2208.4 621 L2208.4 645 L2237.4 674.5 Q2260 696 2289.5 697.6 Q2319 696 2341.6 674.5 L2370.6 645 L2370.6 621"/>
<circle class="o" cx="2228" cy="633.3" r="18.6"/>
<circle class="fb" cx="2228" cy="633.3" r="9.5"/>
<line class="wl" x1="2222" y1="639.3" x2="2234" y2="627.3"/>
<circle class="o" cx="2351" cy="633.3" r="18.6"/>
<circle class="fb" cx="2351" cy="633.3" r="9.5"/>
<line class="wl" x1="2345" y1="639.3" x2="2357" y2="627.3"/>
<circle class="o" cx="2289.5" cy="633.3" r="23.2"/>
<path class="o" d="M2197.8 525 L2188.2 541.6 L2169 541.6 L2159.4 525 L2169 508.4 L2188.2 508.4 Z"/>
<circle class="o" cx="2178.6" cy="525" r="11"/>
<circle class="t" cx="2178.6" cy="525" r="7.6"/>
<line class="h" x1="2160.6" y1="507" x2="2196.6" y2="543"/>
<line class="h" x1="2160.6" y1="543" x2="2196.6" y2="507"/>
<path class="o" d="M2197.8 743 L2188.2 759.6 L2169 759.6 L2159.4 743 L2169 726.4 L2188.2 726.4 Z"/>
<circle class="o" cx="2178.6" cy="743" r="11"/>
<circle class="t" cx="2178.6" cy="743" r="7.6"/>
<line class="h" x1="2160.6" y1="725" x2="2196.6" y2="761"/>
<line class="h" x1="2160.6" y1="761" x2="2196.6" y2="725"/>
<path class="o" d="M2419.6 525 L2410 541.6 L2390.8 541.6 L2381.2 525 L2390.8 508.4 L2410 508.4 Z"/>
<circle class="o" cx="2400.4" cy="525" r="11"/>
<circle class="t" cx="2400.4" cy="525" r="7.6"/>
<line class="h" x1="2382.4" y1="507" x2="2418.4" y2="543"/>
<line class="h" x1="2382.4" y1="543" x2="2418.4" y2="507"/>
<path class="o" d="M2419.6 743 L2410 759.6 L2390.8 759.6 L2381.2 743 L2390.8 726.4 L2410 726.4 Z"/>
<circle class="o" cx="2400.4" cy="743" r="11"/>
<circle class="t" cx="2400.4" cy="743" r="7.6"/>
<line class="h" x1="2382.4" y1="725" x2="2418.4" y2="761"/>
<line class="h" x1="2382.4" y1="761" x2="2418.4" y2="725"/>
<path class="o" d="M2237.3 678.5 L2216.6 806 Q2215 821.6 2204 821.6 L2148.5 821.6"/>
<path class="o" d="M2341.7 678.5 L2362.4 806 Q2364 821.6 2375 821.6 L2430.5 821.6"/>
<path class="o" d="M2219 845 L2245.6 709 Q2249 694 2262 694 L2317 694 Q2330 694 2333.4 709 L2360 845"/>
<defs><clipPath id="trap"><path d="M2219 845 L2245.6 709 L2333.4 709 L2360 845 Z"/></clipPath></defs>
<g clip-path="url(#trap)">
<path class="o" d="M2405.1 675.4 A123 123 0 0 1 2173.9 675.4"/>
<path class="o" d="M2422.9 681.9 A142 142 0 0 1 2156.1 681.9"/>
<path class="o" d="M2450.2 691.8 A171 171 0 0 1 2128.8 691.8"/>
</g>
<path class="o" d="M2149.7 773.8 L2106.6 815.2 L2106.6 845.6"/>
<line class="o" x1="2106.6" y1="816" x2="2148" y2="816"/>
<path class="o" d="M2153.4 736.5 L2148.5 773.5 L2146.5 845.6"/>
<path class="o" d="M2429.3 773.8 L2472.4 815.2 L2472.4 845.6"/>
<line class="o" x1="2472.4" y1="816" x2="2431" y2="816"/>
<path class="o" d="M2425.6 736.5 L2430.5 773.5 L2432.5 845.6"/>
<path class="o" d="M2161.8 845.6 Q2165.8 838 2171.8 838 L2195.8 838 Q2201.8 838 2205.8 845.6"/>
<path class="o" d="M2373.2 845.6 Q2377.2 838 2383.2 838 L2407.2 838 Q2413.2 838 2417.2 845.6"/>
<path class="o" d="M2085 845.6 L2494 845.6 L2497.5 902 L2081.4 902 Z"/>
<line class="o" x1="2138.9" y1="845.6" x2="2134" y2="902"/>
<line class="o" x1="2440.1" y1="845.6" x2="2445" y2="902"/>
<path class="o" d="M2219 845 L2221.8 880.5 L2357.2 880.5 L2360 845"/>
<line class="o" x1="2221.8" y1="853.3" x2="2357.2" y2="853.3"/>
<line class="t" x1="1919" y1="633.3" x2="2106" y2="633.3"/>
<path d="M2106 633.3 L2472 633.3" style="fill:none;stroke:#444;stroke-width:2.4;stroke-dasharray:60 12 12 12"/>
<path d="M2289.5 376 L2289.5 920" style="fill:none;stroke:#222;stroke-width:2.3;stroke-dasharray:86 33 17 36;stroke-dashoffset:34"/>
<line class="t" x1="2145.3" y1="845.6" x2="2145.3" y2="1116"/>
<line class="t" x1="2183.8" y1="806" x2="2183.8" y2="1038"/>
<line class="t" x1="2395.2" y1="806" x2="2395.2" y2="970"/>
<line class="t" x1="2395.2" y1="985" x2="2395.2" y2="1038"/>
<line class="t" x1="2357.2" y1="880" x2="2357.2" y2="986"/>
<line class="t" x1="2433.7" y1="845.6" x2="2433.7" y2="1116"/>
<line class="t" x1="2081.2" y1="902" x2="2081.2" y2="1179"/>
<line class="t" x1="2498" y1="902" x2="2498" y2="1176"/>
<line class="t" x1="2170.2" y1="776" x2="2170.2" y2="839"/>
<line class="t" x1="2196.7" y1="779" x2="2196.7" y2="839"/>
<line class="t" x1="1848" y1="396.6" x2="2202" y2="396.6"/>
<line class="d" x1="1848" y1="902" x2="2081.4" y2="902"/>
<line class="t" x1="1857" y1="396.6" x2="1857" y2="902"/>
<path class="a" d="M1857 396.6 L1862 420.6 L1852 420.6 Z"/>
<path class="a" d="M1857 902 L1852 878 L1862 878 Z"/>
<path class="df" transform="translate(1850 667) rotate(-90)" d="M2.6 -26.7 L16.7 -26.7 L8.5 -16.7 C14.3 -17.1 17.7 -13.6 17.7 -8.9 C17.7 -4.2 14.3 -1.3 9.5 -1.3 C6.1 -1.3 3.1 -2.9 1.3 -5.7 M34.5 -26.7 C39.7 -26.7 42.7 -21.3 42.7 -14.0 C42.7 -6.7 39.7 -1.3 34.5 -1.3 C29.3 -1.3 26.3 -6.7 26.3 -14.0 C26.3 -21.3 29.3 -26.7 34.5 -26.7 Z M51.3 -26.7 L67.7 -26.7 L57.2 -1.3"/>
<line class="t" x1="1932.3" y1="396.6" x2="1932.3" y2="845.6"/>
<path class="a" d="M1932.3 396.6 L1937.3 420.6 L1927.3 420.6 Z"/>
<path class="a" d="M1932.3 633.3 L1927.3 609.3 L1937.3 609.3 Z"/>
<path class="a" d="M1932.3 633.3 L1937.3 657.3 L1927.3 657.3 Z"/>
<path class="a" d="M1932.3 845.6 L1927.3 821.6 L1937.3 821.6 Z"/>
<line class="t" x1="1922.6" y1="845.6" x2="2085" y2="845.6"/>
<path class="df" transform="translate(1924 539.6) rotate(-90)" d="M4.6 -20.9 L11.0 -26.7 L11.0 -1.3 M25.4 -20.5 C26.3 -24.5 29.0 -26.7 32.1 -26.7 C36.3 -26.7 39.0 -23.6 39.0 -19.4 C39.0 -15.6 36.7 -13.3 33.4 -10.4 L24.8 -1.3 L39.4 -1.3 M61.4 -26.7 L49.6 -26.7 L48.7 -15.8 C50.6 -17.3 52.7 -17.8 55.1 -17.8 C59.8 -17.8 62.6 -14.2 62.6 -9.5 C62.6 -4.6 59.5 -1.3 55.1 -1.3 C51.8 -1.3 49.3 -2.9 47.6 -5.5"/>
<path class="df" transform="translate(1924 764) rotate(-90)" d="M4.6 -20.9 L11.1 -26.7 L11.1 -1.3 M27.8 -20.9 L34.3 -26.7 L34.3 -1.3 M48.6 -20.5 C49.5 -24.5 52.2 -26.7 55.3 -26.7 C59.5 -26.7 62.2 -23.6 62.2 -19.4 C62.2 -15.6 60.0 -13.3 56.7 -10.4 L48.0 -1.3 L62.7 -1.3"/>
<line class="t" x1="2014.1" y1="739.7" x2="2014.1" y2="892.3"/>
<path class="a" d="M2014.1 822.6 L2009.1 798.6 L2019.1 798.6 Z"/>
<path class="a" d="M2014.1 845.6 L2019.1 869.6 L2009.1 869.6 Z"/>
<line class="t" x1="2001" y1="822.6" x2="2106.6" y2="822.6"/>
<path class="df" transform="translate(2007 776) rotate(-90)" d="M4.7 -20.9 L11.2 -26.7 L11.2 -1.3 M25.7 -20.5 C26.7 -24.5 29.4 -26.7 32.6 -26.7 C36.9 -26.7 39.6 -23.6 39.6 -19.4 C39.6 -15.6 37.4 -13.3 34.0 -10.4 L25.1 -1.3 L40.1 -1.3"/>
<line class="t" x1="2084.5" y1="786.7" x2="2231" y2="786.7"/>
<path class="a" d="M2170.2 786.7 L2146.2 791.7 L2146.2 781.7 Z"/>
<path class="a" d="M2196.7 786.7 L2220.7 781.7 L2220.7 791.7 Z"/>
<path class="df" d="M2077.6 759.6 L2084.1 753.8 L2084.1 779.2 M2098.5 760.0 C2099.4 756.0 2102.1 753.8 2105.3 753.8 C2109.5 753.8 2112.2 756.9 2112.2 761.1 C2112.2 764.9 2110.0 767.2 2106.7 770.1 L2097.9 779.2 L2112.7 779.2"/>
<line class="d" x1="2257" y1="978" x2="2485" y2="978"/>
<path class="a" d="M2357.2 978 L2333.2 983 L2333.2 973 Z"/>
<path class="a" d="M2433.7 978 L2457.7 973 L2457.7 983 Z"/>
<path class="df" d="M2291.4 972.7 L2291.4 947.3 L2278.7 965.8 L2295.4 965.8 M2312.4 947.3 C2317.7 947.3 2320.7 952.7 2320.7 960.0 C2320.7 967.3 2317.7 972.7 2312.4 972.7 C2307.0 972.7 2304.0 967.3 2304.0 960.0 C2304.0 952.7 2307.0 947.3 2312.4 947.3 Z"/>
<line class="d" x1="2183.8" y1="1030.2" x2="2395.2" y2="1030.2"/>
<path class="a" d="M2183.8 1030.2 L2207.8 1025.2 L2207.8 1035.2 Z"/>
<path class="a" d="M2395.2 1030.2 L2371.2 1035.2 L2371.2 1025.2 Z"/>
<path class="df" d="M2254.3 1001.7 L2261.1 995.9 L2261.1 1021.3 M2278.5 1001.7 L2285.3 995.9 L2285.3 1021.3 M2300.2 1002.1 C2301.1 998.1 2303.9 995.9 2307.3 995.9 C2311.7 995.9 2314.5 999.0 2314.5 1003.2 C2314.5 1007.0 2312.2 1009.3 2308.7 1012.2 L2299.5 1021.3 L2315.0 1021.3"/>
<line class="d" x1="2145.3" y1="1103.1" x2="2433.7" y2="1103.1"/>
<path class="a" d="M2145.3 1103.1 L2169.3 1098.1 L2169.3 1108.1 Z"/>
<path class="a" d="M2433.7 1103.1 L2409.7 1108.1 L2409.7 1098.1 Z"/>
<path class="df" d="M2254.2 1073.1 L2260.9 1067.3 L2260.9 1092.7 M2288.9 1067.3 L2276.6 1067.3 L2275.7 1078.2 C2277.7 1076.7 2279.9 1076.2 2282.4 1076.2 C2287.2 1076.2 2290.1 1079.8 2290.1 1084.5 C2290.1 1089.4 2286.8 1092.7 2282.4 1092.7 C2278.9 1092.7 2276.3 1091.1 2274.6 1088.5 M2299.3 1073.5 C2300.3 1069.5 2303.1 1067.3 2306.3 1067.3 C2310.6 1067.3 2313.4 1070.4 2313.4 1074.6 C2313.4 1078.4 2311.1 1080.7 2307.7 1083.6 L2298.7 1092.7 L2313.9 1092.7"/>
<line class="d" x1="2081.2" y1="1168.3" x2="2498" y2="1168.3"/>
<path class="a" d="M2081.2 1168.3 L2105.2 1163.3 L2105.2 1173.3 Z"/>
<path class="a" d="M2498 1168.3 L2474 1173.3 L2474 1163.3 Z"/>
<path class="df" d="M2254.1 1139.1 C2255.0 1135.1 2258.0 1132.9 2261.4 1132.9 C2265.9 1132.9 2268.8 1136.0 2268.8 1140.2 C2268.8 1144.0 2266.4 1146.3 2262.8 1149.2 L2253.4 1158.3 L2269.3 1158.3 M2293.0 1136.2 C2291.4 1134.0 2289.1 1132.9 2286.5 1132.9 C2281.0 1132.9 2277.9 1138.7 2277.9 1147.4 C2277.9 1154.3 2281.1 1158.3 2286.0 1158.3 C2290.9 1158.3 2294.1 1154.7 2294.1 1149.8 C2294.1 1144.9 2290.9 1141.6 2286.2 1141.6 C2282.3 1141.6 2279.2 1144.1 2278.0 1148.1 M2303.6 1139.1 C2304.6 1135.1 2307.5 1132.9 2310.9 1132.9 C2315.5 1132.9 2318.4 1136.0 2318.4 1140.2 C2318.4 1144.0 2316.0 1146.3 2312.4 1149.2 L2303.0 1158.3 L2318.9 1158.3"/>
<line class="o" x1="1459" y1="1025.3" x2="1581.8" y2="1025.3"/>
<line class="o" x1="1459" y1="1107.9" x2="1581.8" y2="1107.9"/>
<line class="o" x1="1581.8" y1="1025.3" x2="1581.8" y2="1107.9"/>
<line class="t" x1="1459" y1="1008.5" x2="1459" y2="1040"/>
<line class="t" x1="1459" y1="1052" x2="1459" y2="1082"/>
<line class="t" x1="1459" y1="1094" x2="1459" y2="1122"/>
<line class="o" x1="1581.8" y1="1031.5" x2="1596.6" y2="1031.5"/>
<line class="o" x1="1581.8" y1="1100.3" x2="1596.6" y2="1100.3"/>
<path class="o" d="M1596.6 1028.8 L1734.4 1028.8 L1734.4 1104.4 L1596.6 1104.4 Z"/>
<path class="o" d="M1734.4 1031 Q1740 1031 1740 1038 L1740 1096 Q1740 1103 1734.4 1103"/>
<rect class="o" x="1611.5" y="1054.4" width="105.3" height="24.3" rx="12"/>
<line class="t" x1="1449.5" y1="1066.6" x2="1556" y2="1066.6"/>
<line class="t" x1="1590" y1="1066.6" x2="1606" y2="1066.6"/>
<line class="t" x1="1640" y1="1066.6" x2="1746.5" y2="1066.6"/>
<line class="t" x1="1734.4" y1="1028.8" x2="1823.5" y2="1028.8"/>
<line class="t" x1="1740" y1="1104.4" x2="1823.5" y2="1104.4"/>
<line class="t" x1="1823.5" y1="876.2" x2="1823.5" y2="1159.8"/>
<path class="a" d="M1823.5 1028.8 L1818.5 1004.8 L1828.5 1004.8 Z"/>
<path class="a" d="M1823.5 1104.4 L1828.5 1128.4 L1818.5 1128.4 Z"/>
<path class="df" transform="translate(1811 992.3) rotate(-90)" d="M4.4 -20.9 L10.4 -26.7 L10.4 -1.3 M24.1 -4.6 C25.5 -2.4 27.5 -1.3 29.7 -1.3 C34.5 -1.3 37.1 -7.1 37.1 -15.8 C37.1 -22.7 34.3 -26.7 30.1 -26.7 C25.9 -26.7 23.1 -23.1 23.1 -18.2 C23.1 -13.3 25.9 -10.0 30.0 -10.0 C33.3 -10.0 36.0 -12.5 37.0 -16.5 M46.0 -26.7 L46.0 -1.3 M56.1 -18.4 L46.0 -7.5 M49.6 -11.5 L56.8 -1.3 M65.7 -26.7 L79.7 -26.7 L70.7 -1.3"/>
<line class="t" x1="1581.8" y1="1107.9" x2="1581.8" y2="1181"/>
<line class="t" x1="1740" y1="1104.4" x2="1740" y2="1181"/>
<line class="d" x1="1581.8" y1="1173.3" x2="1740" y2="1173.3"/>
<path class="a" d="M1581.8 1173.3 L1605.8 1168.3 L1605.8 1178.3 Z"/>
<path class="a" d="M1740 1173.3 L1716 1178.3 L1716 1168.3 Z"/>
<path class="df" d="M1649.6 1158.1 L1649.6 1132.7 L1638.3 1151.2 L1653.2 1151.2 M1668.8 1132.7 C1673.6 1132.7 1676.3 1138.1 1676.3 1145.4 C1676.3 1152.7 1673.6 1158.1 1668.8 1158.1 C1664.1 1158.1 1661.4 1152.7 1661.4 1145.4 C1661.4 1138.1 1664.1 1132.7 1668.8 1132.7 Z"/>
<defs><clipPath id="sc"><circle cx="1924.7" cy="1066.6" r="37.8"/></clipPath></defs>
<path clip-path="url(#sc)" d="M1784.7 1116.6 L1884.7 1016.6 M1792.2 1116.6 L1892.2 1016.6 M1799.7 1116.6 L1899.7 1016.6 M1807.2 1116.6 L1907.2 1016.6 M1814.7 1116.6 L1914.7 1016.6 M1822.2 1116.6 L1922.2 1016.6 M1829.7 1116.6 L1929.7 1016.6 M1837.2 1116.6 L1937.2 1016.6 M1844.7 1116.6 L1944.7 1016.6 M1852.2 1116.6 L1952.2 1016.6 M1859.7 1116.6 L1959.7 1016.6 M1867.2 1116.6 L1967.2 1016.6 M1874.7 1116.6 L1974.7 1016.6 M1882.2 1116.6 L1982.2 1016.6 M1889.7 1116.6 L1989.7 1016.6 M1897.2 1116.6 L1997.2 1016.6 M1904.7 1116.6 L2004.7 1016.6 M1912.2 1116.6 L2012.2 1016.6 M1919.7 1116.6 L2019.7 1016.6 M1927.2 1116.6 L2027.2 1016.6 M1934.7 1116.6 L2034.7 1016.6 M1942.2 1116.6 L2042.2 1016.6 M1949.7 1116.6 L2049.7 1016.6 M1957.2 1116.6 L2057.2 1016.6 M1964.7 1116.6 L2064.7 1016.6" style="fill:none;stroke:#222;stroke-width:2"/>
<circle class="o" cx="1924.7" cy="1066.6" r="37.8"/>
<rect class="fb" x="1953" y="1054.4" width="17.6" height="23" rx="0"/>
<line class="t" x1="1872" y1="1066.6" x2="1976" y2="1066.6"/>
<line class="t" x1="1924.7" y1="1016.6" x2="1924.7" y2="1119.3"/>
<line class="t" x1="1885.6" y1="1066.6" x2="1885.6" y2="1180"/>
<line class="t" x1="1970.6" y1="1077.4" x2="1970.6" y2="1180"/>
<line class="d" x1="1885.6" y1="1174.6" x2="1970.6" y2="1174.6"/>
<path class="a" d="M1885.6 1174.6 L1909.6 1169.6 L1909.6 1179.6 Z"/>
<path class="a" d="M1970.6 1174.6 L1946.6 1179.6 L1946.6 1169.6 Z"/>
<path class="df" d="M1894.5 1145.7 C1895.4 1141.7 1898.1 1139.5 1901.3 1139.5 C1905.6 1139.5 1908.3 1142.6 1908.3 1146.8 C1908.3 1150.6 1906.0 1152.9 1902.7 1155.8 L1893.9 1164.9 L1908.8 1164.9 M1920.3 1145.3 L1926.8 1139.5 L1926.8 1164.9 M1941.6 1161.6 L1941.6 1164.9 L1941.0 1168.9 M1964.1 1139.5 L1952.1 1139.5 L1951.2 1150.4 C1953.2 1148.9 1955.3 1148.4 1957.7 1148.4 C1962.4 1148.4 1965.3 1152.0 1965.3 1156.7 C1965.3 1161.6 1962.1 1164.9 1957.7 1164.9 C1954.4 1164.9 1951.8 1163.3 1950.1 1160.7"/>
<line class="t" x1="1970.6" y1="1054.4" x2="2034" y2="1054.4"/>
<line class="t" x1="1970.6" y1="1077.4" x2="2034" y2="1077.4"/>
<line class="t" x1="2030" y1="966.7" x2="2030" y2="1109.8"/>
<path class="a" d="M2030 1054.4 L2025 1030.4 L2035 1030.4 Z"/>
<path class="a" d="M2030 1077.4 L2035 1101.4 L2025 1101.4 Z"/>
<path class="df" transform="translate(2020 1005.8) rotate(-90)" d="M13.9 -23.4 C12.6 -25.6 10.7 -26.7 8.5 -26.7 C3.9 -26.7 1.3 -20.9 1.3 -12.2 C1.3 -5.3 4.0 -1.3 8.1 -1.3 C12.2 -1.3 14.9 -4.9 14.9 -9.8 C14.9 -14.7 12.2 -18.0 8.2 -18.0 C5.0 -18.0 2.4 -15.5 1.4 -11.5"/>
<path class="o" d="M284 1290 L850.2 1290 L1010.8 1246 L1528 1246 Q1547.5 1246 1547.5 1266 L1547.5 1643 Q1547.5 1663 1528 1663 L1010.8 1663 L850.2 1620 L284 1620 Q264 1620 264 1600 L264 1310 Q264 1290 284 1290 Z"/>
<rect class="o" x="276.2" y="1304.2" width="649.1" height="82.3" rx="20"/>
<rect class="o" x="276.2" y="1522.4" width="649.1" height="84" rx="20"/>
<path class="o" d="M1309 1253.4 L1244 1253.4 Q1229 1253.4 1229 1268 L1229 1366 Q1229 1380.4 1244 1380.4 L1527 1380.4 Q1542.3 1380.4 1542.3 1366 L1542.3 1268 Q1542.3 1253.4 1527 1253.4 L1411.6 1253.4"/>
<path class="o" d="M1309 1246 L1336 1296 Q1346 1311 1359.7 1311 Q1373.4 1311 1383.4 1296 L1411.6 1246"/>
<path class="o" d="M1309 1655 L1244 1655 Q1229 1655 1229 1640 L1229 1546 Q1229 1531.3 1244 1531.3 L1527 1531.3 Q1542.3 1531.3 1542.3 1546 L1542.3 1640 Q1542.3 1655 1527 1655 L1411.6 1655"/>
<path class="o" d="M1309 1663 L1336 1613 Q1346 1598 1359.7 1598 Q1373.4 1598 1383.4 1613 L1411.6 1663"/>
<circle class="o" cx="1359.7" cy="1283.9" r="13"/>
<line class="t" x1="1359.7" y1="1265.9" x2="1359.7" y2="1301.9"/>
<line class="t" x1="1343" y1="1283.9" x2="1376" y2="1283.9"/>
<circle class="o" cx="1359.7" cy="1625.4" r="13"/>
<line class="t" x1="1359.7" y1="1607.4" x2="1359.7" y2="1643.4"/>
<line class="t" x1="1343" y1="1625.4" x2="1376" y2="1625.4"/>
<circle class="o" cx="316.8" cy="1454.3" r="14.2"/>
<line class="t" x1="316.8" y1="1176" x2="316.8" y2="1472"/>
<line class="t" x1="256" y1="1454.3" x2="302" y2="1454.3"/>
<path d="M256 1454.3 L1561 1454.3" style="fill:none;stroke:#555;stroke-width:2.6;stroke-dasharray:86 33 17 36;stroke-dashoffset:-8.4"/>
<line class="t" x1="1359.7" y1="1176" x2="1359.7" y2="1302"/>
<line class="t" x1="316.8" y1="1441.3" x2="404" y2="1441.3"/>
<line class="t" x1="316.8" y1="1467.6" x2="404" y2="1467.6"/>
<line class="t" x1="395.9" y1="1391.4" x2="395.9" y2="1582"/>
<path class="a" d="M395.9 1441.3 L390.9 1417.3 L400.9 1417.3 Z"/>
<path class="a" d="M395.9 1467.6 L400.9 1491.6 L390.9 1491.6 Z"/>
<path class="df" transform="translate(384 1574) rotate(-90)" d="M5.4 -20.9 L13.3 -26.7 L13.3 -1.3 M43.0 -1.3 L43.0 -26.7 L29.0 -8.2 L47.4 -8.2"/>
<line class="t" x1="174.8" y1="1290" x2="264" y2="1290"/>
<line class="t" x1="174.8" y1="1620" x2="264" y2="1620"/>
<line class="t" x1="174.8" y1="1290" x2="174.8" y2="1620"/>
<path class="a" d="M174.8 1290 L179.8 1314 L169.8 1314 Z"/>
<path class="a" d="M174.8 1620 L169.8 1596 L179.8 1596 Z"/>
<path class="df" transform="translate(163 1505) rotate(-90)" d="M5.3 -20.9 L13.0 -26.7 L13.0 -1.3 M45.3 -23.4 C43.5 -25.6 40.9 -26.7 38.0 -26.7 C31.9 -26.7 28.5 -20.9 28.5 -12.2 C28.5 -5.3 32.1 -1.3 37.5 -1.3 C42.9 -1.3 46.5 -4.9 46.5 -9.8 C46.5 -14.7 42.9 -18.0 37.7 -18.0 C33.3 -18.0 29.9 -15.5 28.7 -11.5 M55.6 -26.7 L73.7 -26.7 L62.1 -1.3"/>
<line class="t" x1="264" y1="1176" x2="264" y2="1790"/>
<line class="t" x1="850.2" y1="1620" x2="850.2" y2="1730"/>
<line class="d" x1="264" y1="1723.2" x2="850.2" y2="1723.2"/>
<path class="a" d="M264 1723.2 L288 1718.2 L288 1728.2 Z"/>
<path class="a" d="M850.2 1723.2 L826.2 1728.2 L826.2 1718.2 Z"/>
<path class="df" d="M568.5 1685.5 C569.5 1681.5 572.6 1679.3 576.1 1679.3 C580.9 1679.3 583.9 1682.4 583.9 1686.6 C583.9 1690.4 581.4 1692.7 577.7 1695.6 L567.8 1704.7 L584.5 1704.7 M601.7 1691.1 C597.5 1691.1 594.8 1688.6 594.8 1685.3 C594.8 1681.8 597.6 1679.3 601.7 1679.3 C605.8 1679.3 608.6 1681.8 608.6 1685.3 C608.6 1688.6 605.9 1691.1 601.7 1691.1 C596.8 1691.1 593.2 1693.8 593.2 1697.8 C593.2 1701.8 596.8 1704.7 601.7 1704.7 C606.6 1704.7 610.2 1701.8 610.2 1697.8 C610.2 1693.8 606.6 1691.1 601.7 1691.1 Z M634.5 1679.3 L621.2 1679.3 L620.1 1690.2 C622.3 1688.7 624.7 1688.2 627.4 1688.2 C632.7 1688.2 635.9 1691.8 635.9 1696.5 C635.9 1701.4 632.3 1704.7 627.4 1704.7 C623.7 1704.7 620.8 1703.1 618.9 1700.5"/>
<line class="t" x1="1547.5" y1="1663" x2="1547.5" y2="1790"/>
<line class="d" x1="264" y1="1781.6" x2="1547.5" y2="1781.6"/>
<path class="a" d="M264 1781.6 L288 1776.6 L288 1786.6 Z"/>
<path class="a" d="M1547.5 1781.6 L1523.5 1786.6 L1523.5 1776.6 Z"/>
<path class="df" d="M804.9 1745.0 L821.3 1745.0 L810.8 1770.4 M845.1 1748.3 C843.5 1746.1 841.2 1745.0 838.5 1745.0 C833.0 1745.0 829.9 1750.8 829.9 1759.5 C829.9 1766.4 833.1 1770.4 838.0 1770.4 C843.0 1770.4 846.2 1766.8 846.2 1761.9 C846.2 1757.0 843.0 1753.7 838.2 1753.7 C834.3 1753.7 831.2 1756.2 830.0 1760.2 M854.8 1745.0 L871.2 1745.0 L860.7 1770.4"/>
<line class="t" x1="1010.8" y1="1663" x2="1010.8" y2="1732"/>
<line class="d" x1="1010.8" y1="1723.2" x2="1547.5" y2="1723.2"/>
<path class="a" d="M1010.8 1723.2 L1034.8 1718.2 L1034.8 1728.2 Z"/>
<path class="a" d="M1547.5 1723.2 L1523.5 1728.2 L1523.5 1718.2 Z"/>
<path class="df" d="M1260.9 1678.0 L1274.8 1678.0 L1266.7 1688.0 C1272.4 1687.6 1275.8 1691.1 1275.8 1695.8 C1275.8 1700.5 1272.4 1703.4 1267.7 1703.4 C1264.3 1703.4 1261.4 1701.8 1259.6 1699.0 M1296.5 1703.4 L1296.5 1678.0 L1284.3 1696.5 L1300.4 1696.5 M1317.0 1678.0 C1322.2 1678.0 1325.1 1683.4 1325.1 1690.7 C1325.1 1698.0 1322.2 1703.4 1317.0 1703.4 C1311.9 1703.4 1308.9 1698.0 1308.9 1690.7 C1308.9 1683.4 1311.9 1678.0 1317.0 1678.0 Z"/>
<line class="t" x1="1370" y1="1283.9" x2="1636" y2="1283.9"/>
<line class="t" x1="1370" y1="1625.4" x2="1636" y2="1625.4"/>
<line class="t" x1="1630.7" y1="1283.9" x2="1630.7" y2="1625.4"/>
<path class="a" d="M1630.7 1283.9 L1635.7 1307.9 L1625.7 1307.9 Z"/>
<path class="a" d="M1630.7 1625.4 L1625.7 1601.4 L1635.7 1601.4 Z"/>
<path class="df" transform="translate(1618 1503) rotate(-90)" d="M2.4 -20.5 C3.5 -24.5 6.7 -26.7 10.5 -26.7 C15.6 -26.7 18.8 -23.6 18.8 -19.4 C18.8 -15.6 16.1 -13.3 12.1 -10.4 L1.7 -1.3 L19.4 -1.3 M29.6 -20.5 C30.7 -24.5 33.9 -26.7 37.7 -26.7 C42.8 -26.7 46.0 -23.6 46.0 -19.4 C46.0 -15.6 43.3 -13.3 39.4 -10.4 L28.9 -1.3 L46.6 -1.3 M72.5 -23.4 C70.7 -25.6 68.2 -26.7 65.3 -26.7 C59.2 -26.7 55.7 -20.9 55.7 -12.2 C55.7 -5.3 59.3 -1.3 64.8 -1.3 C70.2 -1.3 73.8 -4.9 73.8 -9.8 C73.8 -14.7 70.2 -18.0 64.9 -18.0 C60.6 -18.0 57.2 -15.5 55.9 -11.5"/>
<line class="t" x1="1530" y1="1246" x2="1728" y2="1246"/>
<line class="t" x1="1530" y1="1663" x2="1728" y2="1663"/>
<line class="t" x1="1722.8" y1="1246" x2="1722.8" y2="1663"/>
<path class="a" d="M1722.8 1246 L1727.8 1270 L1717.8 1270 Z"/>
<path class="a" d="M1722.8 1663 L1717.8 1639 L1727.8 1639 Z"/>
<path class="df" transform="translate(1711 1503) rotate(-90)" d="M2.4 -20.5 C3.5 -24.5 6.7 -26.7 10.5 -26.7 C15.6 -26.7 18.8 -23.6 18.8 -19.4 C18.8 -15.6 16.1 -13.3 12.1 -10.4 L1.7 -1.3 L19.4 -1.3 M45.3 -23.4 C43.5 -25.6 41.0 -26.7 38.1 -26.7 C31.9 -26.7 28.5 -20.9 28.5 -12.2 C28.5 -5.3 32.1 -1.3 37.5 -1.3 C43.0 -1.3 46.6 -4.9 46.6 -9.8 C46.6 -14.7 43.0 -18.0 37.7 -18.0 C33.4 -18.0 30.0 -15.5 28.7 -11.5 M56.8 -20.5 C57.9 -24.5 61.1 -26.7 64.9 -26.7 C70.0 -26.7 73.3 -23.6 73.3 -19.4 C73.3 -15.6 70.5 -13.3 66.6 -10.4 L56.1 -1.3 L73.8 -1.3"/>
<path class="o" d="M2141 1500 A148.5 148.5 0 0 1 2438 1500"/>
<path class="o" d="M2190.5 1500 A99 99 0 0 1 2388.5 1500"/>
<path class="o" d="M2226 1500 A63.5 63.5 0 0 1 2353 1500"/>
<path class="t" d="M2166 1500 A123.5 123.5 0 0 1 2180.5 1442"/>
<path class="t" d="M2235.4 1389 A123.5 123.5 0 0 1 2343.6 1389"/>
<path class="t" d="M2398.5 1442 A123.5 123.5 0 0 1 2413 1500"/>
<circle class="o" cx="2203" cy="1412" r="14.7"/>
<circle class="o" cx="2376" cy="1412" r="14.7"/>
<line class="t" x1="2098" y1="1500" x2="2148" y2="1500"/>
<line class="t" x1="2155" y1="1500" x2="2185" y2="1500"/>
<line class="t" x1="2196" y1="1500" x2="2220" y2="1500"/>
<line class="t" x1="2250" y1="1500" x2="2336" y2="1500"/>
<line class="t" x1="2357" y1="1500" x2="2383" y2="1500"/>
<line class="t" x1="2395" y1="1500" x2="2425" y2="1500"/>
<line class="t" x1="2432" y1="1500" x2="2485" y2="1500"/>
<line class="t" x1="2289.5" y1="1345" x2="2289.5" y2="1393"/>
<line class="t" x1="2289.5" y1="1425" x2="2289.5" y2="1442"/>
<line class="t" x1="2289.5" y1="1476" x2="2289.5" y2="1518"/>
<line class="t" x1="2179" y1="1389" x2="2237.3" y2="1447.8"/>
<line class="t" x1="2203" y1="1411.8" x2="2217" y2="1400"/>
<line class="t" x1="2355" y1="1436" x2="2402" y2="1388"/>
<line class="t" x1="2101.3" y1="1424.2" x2="2198.9" y2="1326.7"/>
<line class="t" x1="2147.5" y1="1378.5" x2="2186.4" y2="1421"/>
<line class="t" x1="2167.9" y1="1356.7" x2="2216.9" y2="1401.6"/>
<path class="a" d="M2147.5 1378.5 L2131.2 1401.8 L2124.2 1394.8 Z"/>
<path class="a" d="M2167.9 1356.7 L2184.2 1333.4 L2191.2 1340.4 Z"/>
<path class="df" transform="translate(2094 1407) rotate(-45)" d="M4.6 -20.9 L11.1 -26.7 L11.1 -1.3 M32.1 -14.9 C28.4 -14.9 26.0 -17.4 26.0 -20.7 C26.0 -24.2 28.5 -26.7 32.1 -26.7 C35.8 -26.7 38.3 -24.2 38.3 -20.7 C38.3 -17.4 35.9 -14.9 32.1 -14.9 C27.8 -14.9 24.6 -12.2 24.6 -8.2 C24.6 -4.2 27.8 -1.3 32.1 -1.3 C36.5 -1.3 39.7 -4.2 39.7 -8.2 C39.7 -12.2 36.5 -14.9 32.1 -14.9 Z"/>
<line class="t" x1="2225.7" y1="1500" x2="2225.7" y2="1589.2"/>
<line class="t" x1="2166" y1="1500" x2="2166" y2="1653"/>
<line class="t" x1="2141" y1="1500" x2="2141" y2="1716.2"/>
<line class="d" x1="2225.7" y1="1589.2" x2="2396.7" y2="1589.2"/>
<line class="d" x1="2166" y1="1653" x2="2396.7" y2="1653"/>
<line class="d" x1="2141" y1="1716.2" x2="2396.7" y2="1716.2"/>
<path class="a" d="M2225.7 1589.2 L2249.7 1584.2 L2249.7 1594.2 Z"/>
<path class="a" d="M2166 1653 L2190 1648 L2190 1658 Z"/>
<path class="a" d="M2141 1716.2 L2165 1711.2 L2165 1721.2 Z"/>
<path class="df" d="M2302.0 1546.5 L2316.1 1546.5 L2307.9 1556.5 C2313.7 1556.1 2317.1 1559.6 2317.1 1564.3 C2317.1 1569.0 2313.7 1571.9 2308.9 1571.9 C2305.5 1571.9 2302.5 1570.3 2300.7 1567.5 M2326.7 1552.7 C2327.7 1548.7 2330.6 1546.5 2334.1 1546.5 C2338.7 1546.5 2341.6 1549.6 2341.6 1553.8 C2341.6 1557.6 2339.1 1559.9 2335.5 1562.8 L2326.0 1571.9 L2342.1 1571.9"/>
<path class="df" d="M2288.6 1620.3 L2295.3 1614.5 L2295.3 1639.9 M2317.2 1614.5 C2322.2 1614.5 2325.0 1619.9 2325.0 1627.2 C2325.0 1634.5 2322.2 1639.9 2317.2 1639.9 C2312.1 1639.9 2309.3 1634.5 2309.3 1627.2 C2309.3 1619.9 2312.1 1614.5 2317.2 1614.5 Z M2341.3 1614.5 C2346.4 1614.5 2349.2 1619.9 2349.2 1627.2 C2349.2 1634.5 2346.4 1639.9 2341.3 1639.9 C2336.3 1639.9 2333.4 1634.5 2333.4 1627.2 C2333.4 1619.9 2336.3 1614.5 2341.3 1614.5 Z"/>
<path class="df" d="M2288.6 1684.1 L2295.3 1678.3 L2295.3 1703.7 M2321.2 1703.7 L2321.2 1678.3 L2309.3 1696.8 L2325.0 1696.8 M2341.3 1678.3 C2346.4 1678.3 2349.2 1683.7 2349.2 1691.0 C2349.2 1698.3 2346.4 1703.7 2341.3 1703.7 C2336.3 1703.7 2333.4 1698.3 2333.4 1691.0 C2333.4 1683.7 2336.3 1678.3 2341.3 1678.3 Z"/>
</svg>
</body></html>
